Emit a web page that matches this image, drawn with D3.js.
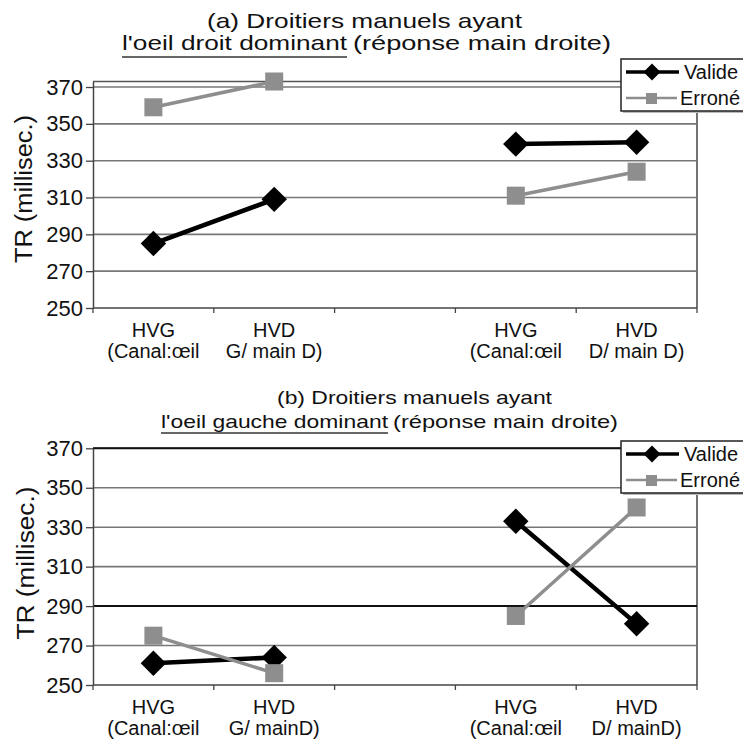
<!DOCTYPE html>
<html>
<head>
<meta charset="utf-8">
<script src="https://cdn.jsdelivr.net/npm/d3@7"></script>
<style>
  body { margin: 0; background: #fff; }
  text { font-family: "Liberation Sans", Arial, sans-serif; fill: #111; }
</style>
</head>
<body>
<div id="chart"></div>
<script>
// categories (two text lines each), third slot is an empty gap
const catsA = [["HVG", "(Canal:œil"], ["HVD", "G/ main D)"], ["", ""], ["HVG", "(Canal:œil"], ["HVD", "D/ main D)"]];
const catsB = [["HVG", "(Canal:œil"], ["HVD", "G/ mainD)"], ["", ""], ["HVG", "(Canal:œil"], ["HVD", "D/ mainD)"]];

// TR values (millisec.), null = no point
const valideA = [285, 309, null, 339, 340];
const erroneA = [359, 373, null, 311, 324];
const valideB = [261, 264, null, 333, 281];
const erroneB = [275, 256, null, 285, 340];

const yTicks = [250, 270, 290, 310, 330, 350, 370];
const seriesNames = ["Valide", "Erroné"];

const width = 743, height = 748;
const svg = d3.select("#chart").append("svg")
    .attr("width", width)
    .attr("height", height);

const panels = [
  {
    cats: catsA, valide: valideA, errone: erroneA, yMax: 373,
    top: 81.5, bottom: 308, darkGrid: [],
    title1: {text: "(a) Droitiers manuels ayant", x: 207, y: 28, len: 315, size: 21},
    title2a: {text: "l'oeil droit dominant", x: 122, y: 50, len: 225, size: 21},
    title2b: {text: "(réponse main droite)", x: 353, y: 50, len: 258, size: 21},
    underlineY: 57,
    yTitle: {x: 32, y: 189, len: 148},
    legendY: 59
  },
  {
    cats: catsB, valide: valideB, errone: erroneB, yMax: 370,
    top: 448.3, bottom: 685, darkGrid: [370, 290],
    title1: {text: "(b) Droitiers manuels ayant", x: 277, y: 404, len: 275, size: 19},
    title2a: {text: "l'oeil gauche dominant", x: 161, y: 428, len: 227, size: 19},
    title2b: {text: "(réponse main droite)", x: 393, y: 428, len: 225, size: 19},
    underlineY: 433,
    yTitle: {x: 34, y: 563, len: 153},
    legendY: 441
  }
];

const plotLeft = 93, plotRight = 697;

function drawPanel(p) {
  const g = svg.append("g");
  const x = d3.scaleBand().domain(d3.range(p.cats.length)).range([plotLeft, plotRight]);
  const y = d3.scaleLinear().domain([250, p.yMax]).range([p.bottom, p.top]);

  // titles
  [p.title1, p.title2a, p.title2b].forEach(t => {
    g.append("text")
      .attr("x", t.x).attr("y", t.y)
      .attr("font-size", t.size)
      .attr("textLength", t.len)
      .attr("lengthAdjust", "spacingAndGlyphs")
      .text(t.text);
  });
  g.append("line")
    .attr("x1", p.title2a.x).attr("x2", p.title2a.x + p.title2a.len)
    .attr("y1", p.underlineY).attr("y2", p.underlineY)
    .attr("stroke", "#333").attr("stroke-width", 1.5);

  // plot frame (top and right)
  g.append("line")
    .attr("x1", plotLeft).attr("x2", plotRight)
    .attr("y1", y(p.yMax)).attr("y2", y(p.yMax))
    .attr("stroke", "#555").attr("stroke-width", 1.5);
  g.append("line")
    .attr("x1", plotRight).attr("x2", plotRight)
    .attr("y1", y(p.yMax)).attr("y2", y(250))
    .attr("stroke", "#444").attr("stroke-width", 1.5);

  // gridlines
  g.selectAll(".grid")
    .data(yTicks.filter(t => t > 250))
    .join("line")
    .attr("x1", plotLeft).attr("x2", plotRight)
    .attr("y1", d => y(d)).attr("y2", d => y(d))
    .attr("stroke", d => p.darkGrid.includes(d) ? "#111" : "#777")
    .attr("stroke-width", d => p.darkGrid.includes(d) ? 2 : 1.6);

  // y axis
  const yAxis = g.append("g")
    .attr("transform", `translate(${plotLeft},0)`)
    .call(d3.axisLeft(y).tickValues(yTicks).tickSize(7).tickSizeOuter(0).tickPadding(3));
  yAxis.select(".domain").attr("stroke", "#444").attr("stroke-width", 1.5);
  yAxis.selectAll(".tick line").attr("stroke", "#444").attr("stroke-width", 1.3);
  yAxis.selectAll(".tick text")
    .attr("font-size", 22)
    .attr("font-family", "Liberation Sans, Arial, sans-serif")
    .attr("fill", "#111");

  // x axis line and boundary ticks
  g.append("line")
    .attr("x1", plotLeft).attr("x2", plotRight)
    .attr("y1", y(250)).attr("y2", y(250))
    .attr("stroke", "#444").attr("stroke-width", 1.6);
  const bounds = x.domain().map(i => x(i)).concat([x.range()[1]]);
  g.selectAll(".xtick")
    .data(bounds)
    .join("line")
    .attr("x1", d => d).attr("x2", d => d)
    .attr("y1", y(250)).attr("y2", y(250) + 5)
    .attr("stroke", "#444").attr("stroke-width", 1.3);

  // category labels
  const lab = g.selectAll(".xlab")
    .data(p.cats.map((c, i) => ({c, i})))
    .join("text")
    .attr("text-anchor", "middle")
    .attr("font-size", 20);
  lab.append("tspan")
    .attr("x", d => x(d.i) + x.bandwidth() / 2)
    .attr("y", y(250) + 29)
    .text(d => d.c[0]);
  lab.append("tspan")
    .attr("x", d => x(d.i) + x.bandwidth() / 2)
    .attr("y", y(250) + 50)
    .text(d => d.c[1]);

  // y axis title
  g.append("text")
    .attr("transform", `translate(${p.yTitle.x},${p.yTitle.y}) rotate(-90)`)
    .attr("text-anchor", "middle")
    .attr("font-size", 23)
    .attr("textLength", p.yTitle.len)
    .attr("lengthAdjust", "spacingAndGlyphs")
    .text("TR (millisec.)");

  // series
  const line = d3.line()
    .defined(d => d.v != null)
    .x(d => x(d.i) + x.bandwidth() / 2)
    .y(d => y(d.v));
  const valid = p.valide.map((v, i) => ({v, i}));
  const err = p.errone.map((v, i) => ({v, i}));

  g.append("path").datum(valid)
    .attr("d", line).attr("fill", "none")
    .attr("stroke", "#000").attr("stroke-width", 4.5);
  g.selectAll(".dia").data(valid.filter(d => d.v != null))
    .join("path")
    .attr("transform", d => `translate(${x(d.i) + x.bandwidth() / 2},${y(d.v)}) rotate(45)`)
    .attr("d", "M-9,-9H9V9H-9Z")
    .attr("fill", "#000");

  g.append("path").datum(err)
    .attr("d", line).attr("fill", "none")
    .attr("stroke", "#8e8e8e").attr("stroke-width", 3.5);
  g.selectAll(".sq").data(err.filter(d => d.v != null))
    .join("rect")
    .attr("x", d => x(d.i) + x.bandwidth() / 2 - 9)
    .attr("y", d => y(d.v) - 9)
    .attr("width", 18).attr("height", 18)
    .attr("fill", "#8e8e8e");

  // legend
  const lg = g.append("g").attr("transform", `translate(621,${p.legendY})`);
  lg.append("rect")
    .attr("x", 2).attr("y", 2).attr("width", 126).attr("height", 52)
    .attr("fill", "#bbb");
  lg.append("rect")
    .attr("width", 126).attr("height", 52)
    .attr("fill", "#fff").attr("stroke", "#222").attr("stroke-width", 1.5);
  seriesNames.forEach((name, k) => {
    const ry = 13 + k * 26;
    const row = lg.append("g").attr("transform", `translate(0,${ry})`);
    row.append("line")
      .attr("x1", 5).attr("x2", k === 0 ? 58 : 56)
      .attr("stroke", k === 0 ? "#000" : "#8e8e8e")
      .attr("stroke-width", k === 0 ? 3.5 : 2.5);
    if (k === 0) {
      row.append("path").attr("d", "M-6,-6H6V6H-6Z")
        .attr("transform", "translate(31,0) rotate(45)").attr("fill", "#000");
    } else {
      row.append("rect").attr("x", 25).attr("y", -5).attr("width", 11).attr("height", 11)
        .attr("fill", "#8e8e8e");
    }
    row.append("text")
      .attr("x", k === 0 ? 63 : 59).attr("y", 7)
      .attr("font-size", 20)
      .text(name);
  });
}

panels.forEach(drawPanel);
</script>
</body>
</html>
